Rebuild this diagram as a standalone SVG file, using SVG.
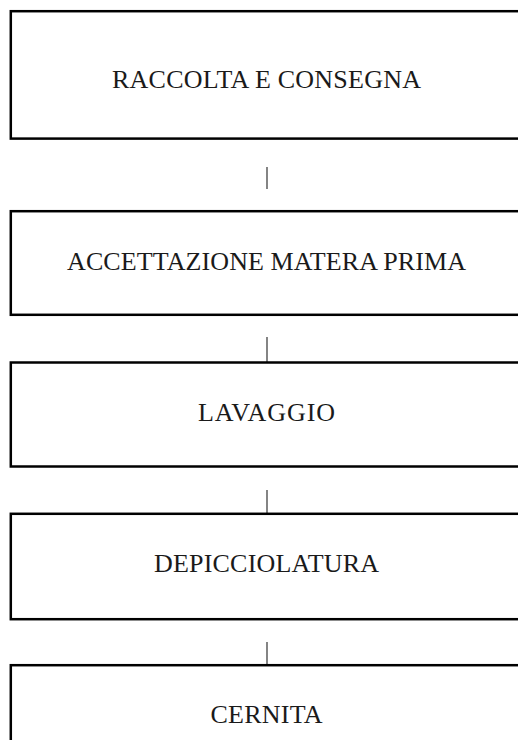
<svg xmlns="http://www.w3.org/2000/svg" width="518" height="740" viewBox="0 0 518 740">
<style>
.box{fill:#fff;stroke:#000;stroke-width:2.5}
.lbl{font-family:"Liberation Serif","Times New Roman",serif;font-size:26px;fill:#1a1a1a;text-anchor:middle}
.conn{stroke:#333;stroke-width:1.2;fill:none}
</style>
<rect width="518" height="740" fill="#fff"/>
<g id="connectors">
<line class="conn" x1="267" y1="167" x2="267" y2="189"/>
<line class="conn" x1="267" y1="337" x2="267" y2="362"/>
<line class="conn" x1="267" y1="490" x2="267" y2="513.5"/>
<line class="conn" x1="267" y1="642" x2="267" y2="665"/>
</g>
<g id="n1">
<rect class="box" x="10.8" y="11.2" width="511" height="127.4"/>
<text class="lbl" x="266.5" y="88" textLength="309">RACCOLTA E CONSEGNA</text>
</g>
<g id="n2">
<rect class="box" x="10.8" y="211.2" width="511" height="103.6"/>
<text class="lbl" x="266.5" y="270" textLength="399">ACCETTAZIONE MATERA PRIMA</text>
</g>
<g id="n3">
<rect class="box" x="10.8" y="362.5" width="511" height="104"/>
<text class="lbl" x="266.5" y="421" textLength="137">LAVAGGIO</text>
</g>
<g id="n4">
<rect class="box" x="10.8" y="513.8" width="511" height="105.4"/>
<text class="lbl" x="266.5" y="572" textLength="225">DEPICCIOLATURA</text>
</g>
<g id="n5">
<rect class="box" x="10.8" y="665.2" width="511" height="100"/>
<text class="lbl" x="266.5" y="723" textLength="112">CERNITA</text>
</g>
</svg>
